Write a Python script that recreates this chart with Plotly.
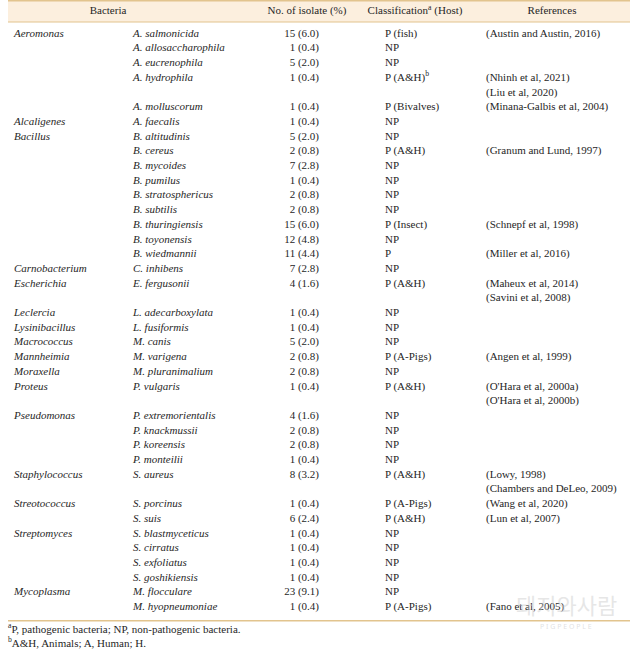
import plotly.graph_objects as go

# ---------------- data ----------------
headers = ["Bacteria", "No. of isolate (%)", "Classification<sup>a</sup> (Host)", "References"]

genus = ["Aeromonas", "", "", "", "", "", "Alcaligenes", "Bacillus", "", "", "", "", "", "", "", "",
         "Carnobacterium", "Escherichia", "", "Leclercia", "Lysinibacillus", "Macrococcus", "Mannheimia",
         "Moraxella", "Proteus", "", "Pseudomonas", "", "", "", "Staphylococcus", "", "Streotococcus", "",
         "Streptomyces", "", "", "", "Mycoplasma", ""]

species = ["A. salmonicida", "A. allosaccharophila", "A. eucrenophila", "A. hydrophila", "", "A. molluscorum",
           "A. faecalis", "B. altitudinis", "B. cereus", "B. mycoides", "B. pumilus", "B. stratosphericus",
           "B. subtilis", "B. thuringiensis", "B. toyonensis", "B. wiedmannii", "C. inhibens", "E. fergusonii", "",
           "L. adecarboxylata", "L. fusiformis", "M. canis", "M. varigena", "M. pluranimalium", "P. vulgaris", "",
           "P. extremorientalis", "P. knackmussii", "P. koreensis", "P. monteilii", "S. aureus", "",
           "S. porcinus", "S. suis", "S. blastmyceticus", "S. cirratus", "S. exfoliatus", "S. goshikiensis",
           "M. flocculare", "M. hyopneumoniae"]

counts = [15, 1, 5, 1, None, 1, 1, 5, 2, 7, 1, 2, 2, 15, 12, 11, 7, 4, None, 1, 1, 5, 2, 2, 1, None,
          4, 2, 2, 1, 8, None, 1, 6, 1, 1, 1, 1, 23, 1]
percents = [6.0, 0.4, 2.0, 0.4, None, 0.4, 0.4, 2.0, 0.8, 2.8, 0.4, 0.8, 0.8, 6.0, 4.8, 4.4, 2.8, 1.6, None,
            0.4, 0.4, 2.0, 0.8, 0.8, 0.4, None, 1.6, 0.8, 0.8, 0.4, 3.2, None, 0.4, 2.4, 0.4, 0.4, 0.4, 0.4,
            9.1, 0.4]

classification = ["P (fish)", "NP", "NP", "P (A&H)<sup>b</sup>", "", "P (Bivalves)", "NP", "NP", "P (A&H)",
                  "NP", "NP", "NP", "NP", "P (Insect)", "NP", "P", "NP", "P (A&H)", "", "NP", "NP", "NP",
                  "P (A-Pigs)", "NP", "P (A&H)", "", "NP", "NP", "NP", "NP", "P (A&H)", "", "P (A-Pigs)",
                  "P (A&H)", "NP", "NP", "NP", "NP", "NP", "P (A-Pigs)"]

references = ["(Austin and Austin, 2016)", "", "", "(Nhinh et al, 2021)", "(Liu et al, 2020)",
              "(Minana-Galbis et al, 2004)", "", "", "(Granum and Lund, 1997)", "", "", "", "",
              "(Schnepf et al, 1998)", "", "(Miller et al, 2016)", "", "(Maheux et al, 2014)",
              "(Savini et al, 2008)", "", "", "", "(Angen et al, 1999)", "", "(O'Hara et al, 2000a)",
              "(O'Hara et al, 2000b)", "", "", "", "", "(Lowy, 1998)", "(Chambers and DeLeo, 2009)",
              "(Wang et al, 2020)", "(Lun et al, 2007)", "", "", "", "", "", "(Fano et al, 2005)"]

footnotes = ["<sup>a</sup>P, pathogenic bacteria; NP, non-pathogenic bacteria.",
             "<sup>b</sup>A&H, Animals; A, Human; H."]

# ---------------- layout helpers ----------------
W, H = 637, 650
FONT = "Liberation Serif, Times New Roman, serif"
TXT = "#262626"
LINE = "#E2C48E"
BAND = "#FCEFDE"
FS = 11

row0, dy = 34.0, 14.7
rows_y = [row0 + i * dy for i in range(len(species))]

isolate_txt = ["" if c is None else f"{c} ({p:.1f})" for c, p in zip(counts, percents)]

fig = go.Figure()


def col(x, texts, pos, italic=False):
    ys = [y for y, t in zip(rows_y, texts) if t]
    ts = [t for t in texts if t]
    fig.add_trace(go.Scatter(
        x=[x] * len(ts), y=ys, text=ts, mode="text",
        textposition=pos, hoverinfo="skip", showlegend=False,
        textfont=dict(family=FONT, size=FS, color=TXT, style="italic" if italic else "normal"),
    ))


col(14, genus, "middle right", italic=True)
col(133, species, "middle right", italic=True)
col(319, isolate_txt, "middle left")
col(385, classification, "middle right")
col(486, references, "middle right")

# header
hdr_x = [108, 307, 415, 552]
fig.add_trace(go.Scatter(
    x=hdr_x, y=[11.5] * 4, text=headers, mode="text", textposition="middle center",
    hoverinfo="skip", showlegend=False,
    textfont=dict(family=FONT, size=FS, color=TXT),
))

# footnotes
fig.add_trace(go.Scatter(
    x=[8, 8], y=[630, 644], text=footnotes, mode="text", textposition="middle right",
    hoverinfo="skip", showlegend=False,
    textfont=dict(family=FONT, size=FS, color=TXT),
))

shapes = [
    dict(type="rect", x0=8, x1=630, y0=0.5, y1=22, fillcolor=BAND, line=dict(width=0), layer="below"),
    dict(type="line", x0=8, x1=630, y0=0.8, y1=0.8, line=dict(color=LINE, width=1.5)),
    dict(type="line", x0=8, x1=630, y0=22, y1=22, line=dict(color=LINE, width=1.2)),
    dict(type="line", x0=8, x1=630, y0=620.8, y1=620.8, line=dict(color=LINE, width=1.6)),
]

# faint watermark (site logo)
annotations = [
    dict(x=566, y=604, xref="x", yref="y", text="돼지와사람", showarrow=False,
         font=dict(family="Noto Sans CJK KR", size=22, color="rgba(205,205,205,0.5)")),
    dict(x=566, y=626, xref="x", yref="y", text="P I G P E O P L E", showarrow=False,
         font=dict(family="Noto Sans", size=7, color="rgba(205,205,205,0.6)")),
]

fig.update_layout(
    width=W, height=H, margin=dict(l=0, r=0, t=0, b=0),
    paper_bgcolor="white", plot_bgcolor="white",
    xaxis=dict(range=[0, W], visible=False, fixedrange=True),
    yaxis=dict(range=[H, 0], visible=False, fixedrange=True),
    shapes=shapes, annotations=annotations,
)

fig.write_html("out.html", config={"displayModeBar": False},
               post_script="document.body.style.margin='0px';")
